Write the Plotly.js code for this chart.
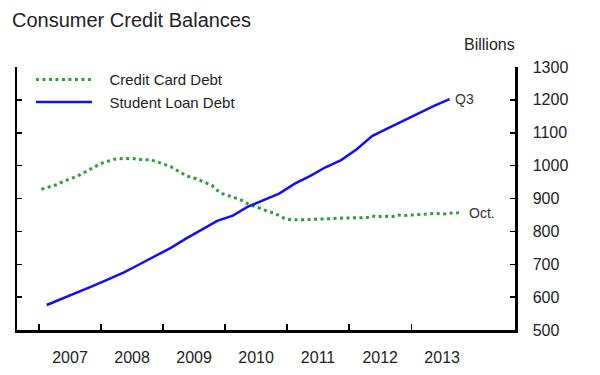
<!DOCTYPE html>
<html>
<head>
<meta charset="utf-8">
<script src="https://cdn.plot.ly/plotly-3.0.1.min.js"></script>
<style>html,body{margin:0;padding:0;background:#fff}#chart{width:600px;height:375px}</style>
</head>
<body>
<div id="chart"></div>
<script>
// Credit card debt, monthly, Jan 2007 - Oct 2013 (billions)
var ccStart = [2007, 1];
var creditCard = [928,933,938,942,950,955,962,968,977,986,995,1002,
  1009,1015,1019,1021,1022,1022,1021,1019,1017,1019,1013,1008,
  1003,997,988,979,970,964,960,953,947,940,925,915,
  909,905,899,893,884,878,872,865,860,856,848,840,
  836,835,835,835,836,837,836,838,838,839,841,841,
  841,841,841,842,847,844,846,845,845,850,848,849,
  850,850,850,853,855,853,853,855,856,857];
// Student loan debt, quarterly, 2007Q1 - 2013Q3 (billions)
var slStart = [2007, 1];
var studentLoan = [576,595,613,634,655,675,700,725,750,778,805,832,
  848,875,895,915,945,968,995,1017,1050,1090,1113,1137,1160,1182,1202];
var seriesNames = ['Credit Card Debt', 'Student Loan Debt'];
var yearLabels = ['2007','2008','2009','2010','2011','2012','2013'];
var yTicks = [500,600,700,800,900,1000,1100,1200,1300];

function pad(n){return (n<10?'0':'')+n;}
var ccDates = creditCard.map(function(v,i){
  var m = ccStart[1]-1+i; var y = ccStart[0]+Math.floor(m/12);
  return y+'-'+pad(m%12+1)+'-15';
});
var slDates = studentLoan.map(function(v,i){
  var q = slStart[1]-1+i; var y = slStart[0]+Math.floor(q/4);
  return y+'-'+pad((q%4)*3+2)+'-15';
});
var yearStarts = yearLabels.map(function(y){return y+'-01-01';});
var yearMids = yearLabels.map(function(y){return y+'-07-02';});
var gap = '\u00a0\u00a0\u00a0';

var font = '"Liberation Sans", Arial, Helvetica, sans-serif';
var traces = [
  {x: ccDates, y: creditCard, type:'scatter', mode:'lines', name: gap + seriesNames[0],
   line:{color:'#2e9e3a', width:3, dash:'3px,3.5px'}},
  {x: slDates, y: studentLoan, type:'scatter', mode:'lines', name: gap + seriesNames[1],
   line:{color:'#1010f5', width:2.5}}
];
var layout = {
  width:600, height:375,
  margin:{l:17, r:85, t:67, b:45},
  paper_bgcolor:'#fff', plot_bgcolor:'#fff',
  font:{family:font, size:16, color:'#222'},
  title:{text:'Consumer Credit Balances', x:12/600, xref:'container', xanchor:'left',
         y:1-20/375, yref:'container', yanchor:'middle', font:{size:20, color:'#222'}},
  showlegend:true,
  legend:{x:0.028, y:1.014, xanchor:'left', yanchor:'top', bgcolor:'rgba(0,0,0,0)',
          font:{size:15, color:'#222'}, tracegroupgap:0, itemwidth:56},
  xaxis:{type:'date', range:['2006-08-24','2014-09-04'], showgrid:false, zeroline:false,
         showline:true, linecolor:'#000', linewidth:2.5,
         tickmode:'array', tickvals:yearMids, ticktext:yearLabels, ticks:'',
         ticklabelstandoff:11,
         minor:{tickmode:'array', tickvals:yearStarts, ticks:'inside', ticklen:6, tickwidth:1.5, tickcolor:'#000'},
         tickfont:{size:16}},
  yaxis:{side:'right', range:[500,1300], showgrid:false, zeroline:false,
         showline:true, linecolor:'#000', linewidth:2.5, mirror:'ticks',
         tickmode:'array', tickvals:yTicks, ticks:'inside', ticklen:5, tickwidth:1.5, tickcolor:'#000',
         ticklabelstandoff:12, tickfont:{size:16}},
  annotations:[
    {text:'Billions', xref:'paper', yref:'paper', x:1.005, y:(330-45)/263, xanchor:'right', yanchor:'middle',
     showarrow:false, font:{size:16, color:'#222'}},
    {text:'Q3', x:slDates[slDates.length-1], y:studentLoan[studentLoan.length-1], xanchor:'left', yanchor:'middle',
     xshift:3, showarrow:false, font:{size:14, color:'#333'}},
    {text:'Oct.', x:ccDates[ccDates.length-1], y:creditCard[creditCard.length-1], xanchor:'left', yanchor:'middle',
     xshift:7, showarrow:false, font:{size:14, color:'#333'}}
  ]
};
Plotly.newPlot('chart', traces, layout, {displayModeBar:false, staticPlot:true});
</script>
</body>
</html>
